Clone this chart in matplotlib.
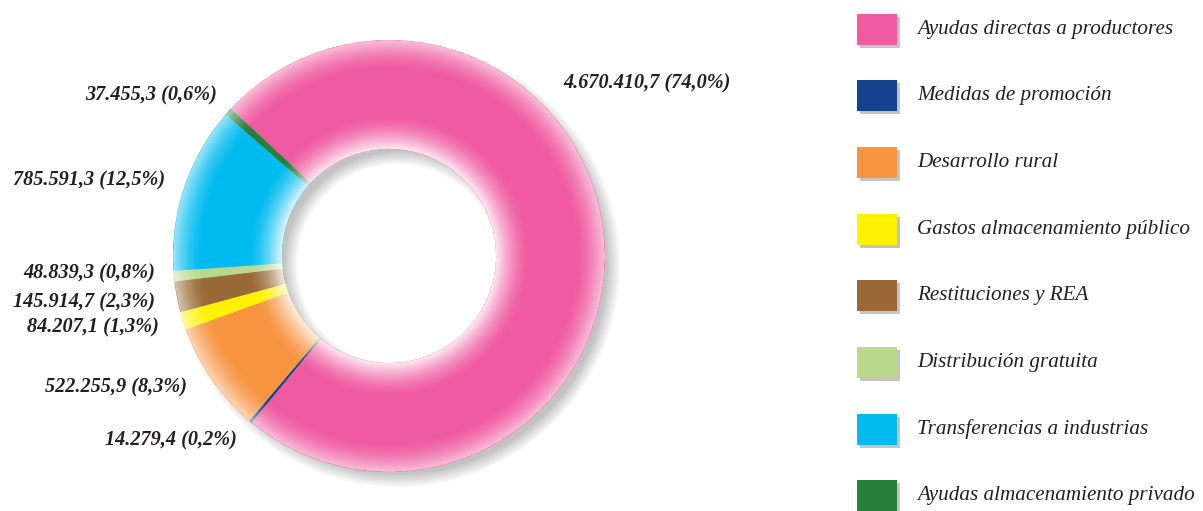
import numpy as np
import matplotlib.pyplot as plt
from matplotlib.patches import Rectangle, Wedge

# datos
categorias = [
    'Ayudas directas a productores',
    'Medidas de promoción',
    'Desarrollo rural',
    'Gastos almacenamiento público',
    'Restituciones y REA',
    'Distribución gratuita',
    'Transferencias a industrias',
    'Ayudas almacenamiento privado',
]
valores = [4670410.7, 14279.4, 522255.9, 84207.1, 145914.7, 48839.3, 785591.3, 37455.3]
colores = ['#ef5aa0', '#14428c', '#f79440', '#fff200', '#9a6a36', '#b8d98c', '#00bbef', '#267f3a']

# posición (borde derecho, y de imagen) de cada etiqueta
pos_etiquetas = [(731, 83), (237, 440), (187, 387), (159, 327), (155, 302), (155, 273), (165, 180), (217, 95)]

W, H = 1203, 511
cx, cy = 389, H - 256
R, r_in = 216, 107
txt_color = '#231f20'


def fmt_es(v):
    s = f'{v:,.1f}'
    return s.replace(',', 'X').replace('.', ',').replace('X', '.')


total = sum(valores)
etiquetas = [f'{fmt_es(v)} ({(f"{v / total * 100:.1f}").replace(".", ",")}%)' for v in valores]

fig = plt.figure(figsize=(W / 100, H / 100), dpi=100)
ax = fig.add_axes([0, 0, 1, 1])

# sombra difusa del anillo
off = (9, -9)
n = 900
gx = np.linspace(cx - R - 30, cx + R + 30, n)
gy = np.linspace(cy - R - 30, cy + R + 30, n)
X, Y = np.meshgrid(gx, gy)
d = np.hypot(X - cx - off[0], Y - cy - off[1])
b = 7.0
s1 = np.clip((d - r_in + b) / (2 * b), 0, 1)
s2 = 1 - np.clip((d - R + b) / (2 * b), 0, 1)
sh = np.zeros((n, n, 4))
sh[..., :3] = 0.35
sh[..., 3] = 0.36 * s1 * s2
ax.imshow(sh, extent=(gx[0], gx[-1], gy[0], gy[-1]), origin='lower',
          interpolation='bilinear', zorder=0)

# anillo
ax.pie(valores, colors=colores, startangle=137, counterclock=False,
       radius=R, center=(cx, cy),
       wedgeprops=dict(width=R - r_in, linewidth=0, antialiased=True))

# degradado blanco en bordes interior y exterior
d2 = np.hypot(X - cx, Y - cy)
t = (d2 - r_in) / (R - r_in)
a_in = 0.88 * np.clip(1 - t / 0.32, 0, 1) ** 1.6
a_out = 0.62 * np.clip((t - 0.72) / 0.28, 0, 1) ** 1.6
ov = np.ones((n, n, 4))
ov[..., 3] = np.where((t >= 0) & (t <= 1), np.maximum(a_in, a_out), 0)
im = ax.imshow(ov, extent=(gx[0], gx[-1], gy[0], gy[-1]), origin='lower',
               interpolation='bilinear', zorder=3)
ring = Wedge((cx, cy), R, 0, 360, width=R - r_in, transform=ax.transData)
im.set_clip_path(ring)

# etiquetas de valores
for lab, (x, y) in zip(etiquetas, pos_etiquetas):
    ax.text(x, H - y, lab, ha='right', va='center', fontsize=14.6,
            family='Liberation Serif', style='italic', weight='bold',
            color=txt_color, zorder=5)

# leyenda
for i, (cat, col) in enumerate(zip(categorias, colores)):
    yc = H - (29 + i * 66.7)
    ax.add_patch(Rectangle((860, yc - 15.5 - 3), 40, 31, color='#c4c4c4', lw=0, zorder=4))
    ax.add_patch(Rectangle((857, yc - 15.5), 40, 31, color=col, lw=0, zorder=5))
    ax.text(917, yc, cat, ha='left', va='center', fontsize=15.2,
            family='Liberation Serif', style='italic', color=txt_color, zorder=5)

ax.set_xlim(0, W)
ax.set_ylim(0, H)
ax.set_aspect('auto')
ax.axis('off')
fig.savefig('out.png', dpi=100, facecolor='white')
